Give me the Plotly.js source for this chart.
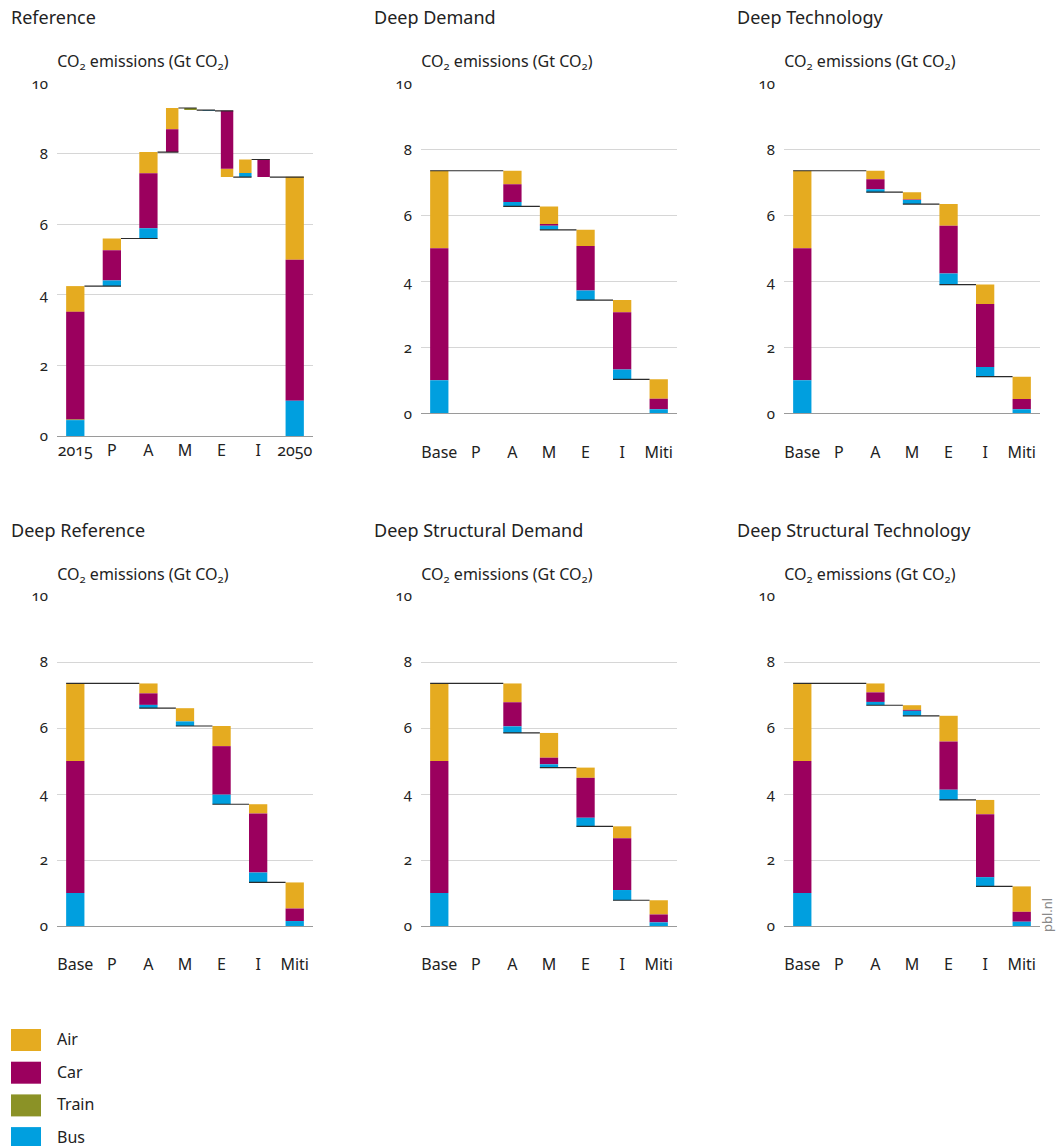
<!DOCTYPE html>
<html>
<head>
<meta charset="utf-8">
<script src="https://cdn.plot.ly/plotly-3.0.1.min.js"></script>
<style>
  html, body { margin: 0; padding: 0; background: #ffffff; }
  #chart { width: 1061px; height: 1146px; }
  .main-svg text { font-variant-numeric: oldstyle-nums !important; font-feature-settings: "onum" 1 !important; }
</style>
</head>
<body>
<div id="chart"></div>
<script>
// Transport modes (legend order) and their colours
const modes = ['Air', 'Car', 'Train', 'Bus'];
const modeColors = ['#E5AB20', '#9B005E', '#8B9226', '#009FDF'];

// Category labels along the x axes
const refCategories = ['2015', 'P', 'A', 'M', 'E', 'I', '2050'];
const deepCategories = ['Base', 'P', 'A', 'M', 'E', 'I', 'Miti'];

// Scenario titles
const scenarioTitles = ['Reference', 'Deep Demand', 'Deep Technology',
                        'Deep Reference', 'Deep Structural Demand', 'Deep Structural Technology'];

// Reference: first and last steps are totals, the rest are changes (Gt CO2).
// Some categories hold more than one step (increases and decreases shown apart).
const refStepCategory = [0, 1, 2, 3, 3, 4, 4, 5, 5, 6];
const refAir   = [0.73, 0.33, 0.60, 0.60,  0.00,  0.00, -0.24, 0.38,  0.00, 2.35];
const refCar   = [3.05, 0.86, 1.56, 0.65,  0.00,  0.00, -1.64, 0.00, -0.50, 4.00];
const refTrain = [0.02, 0.00, 0.00, 0.00, -0.06,  0.00,  0.00, 0.00,  0.00, 0.00];
const refBus   = [0.45, 0.16, 0.29, 0.00,  0.00, -0.02,  0.00, 0.12,  0.00, 1.00];

// Deep scenarios: Base total, changes for P, A, M, E, I, then the Miti total
const deepStepCategory = [0, 1, 2, 3, 4, 5, 6];

const deepDemandAir   = [2.35, 0, -0.41, -0.53, -0.49, -0.37, 0.59];
const deepDemandCar   = [4.00, 0, -0.54, -0.06, -1.35, -1.73, 0.32];
const deepDemandTrain = [0.00, 0,  0.00,  0.00,  0.00,  0.00, 0.00];
const deepDemandBus   = [1.00, 0, -0.13, -0.12, -0.29, -0.30, 0.12];

const deepTechAir   = [2.35, 0, -0.26, -0.22, -0.66, -0.59, 0.68];
const deepTechCar   = [4.00, 0, -0.30, -0.02, -1.44, -1.91, 0.31];
const deepTechTrain = [0.00, 0,  0.00,  0.00,  0.00,  0.00, 0.00];
const deepTechBus   = [1.00, 0, -0.09, -0.12, -0.34, -0.29, 0.12];

const deepRefAir   = [2.35, 0, -0.30, -0.40, -0.61, -0.28, 0.79];
const deepRefCar   = [4.00, 0, -0.35,  0.00, -1.47, -1.79, 0.38];
const deepRefTrain = [0.00, 0,  0.00,  0.00,  0.00,  0.00, 0.00];
const deepRefBus   = [1.00, 0, -0.10, -0.14, -0.29, -0.30, 0.15];

const deepStructDemandAir   = [2.35, 0, -0.57, -0.75, -0.31, -0.36, 0.43];
const deepStructDemandCar   = [4.00, 0, -0.73, -0.20, -1.21, -1.57, 0.24];
const deepStructDemandTrain = [0.00, 0,  0.00,  0.00,  0.00,  0.00, 0.00];
const deepStructDemandBus   = [1.00, 0, -0.20, -0.10, -0.26, -0.31, 0.11];

const deepStructTechAir   = [2.35, 0, -0.27, -0.14, -0.78, -0.43, 0.77];
const deepStructTechCar   = [4.00, 0, -0.29, -0.03, -1.46, -1.91, 0.30];
const deepStructTechTrain = [0.00, 0,  0.00,  0.00,  0.00,  0.00, 0.00];
const deepStructTechBus   = [1.00, 0, -0.10, -0.15, -0.31, -0.28, 0.13];

// ---------------------------------------------------------------------------
const W = 1061, H = 1146;
const FONT = '"Noto Sans", "Open Sans", sans-serif';
const TEXT = '#222222';

// Plot-area geometry in pixels: [left, top, bottom] per panel, shared width
const plotWidth = 256;
const panelGeom = [
  [57, 83.3, 436], [421, 83.3, 413.3], [784, 83.3, 413.3],
  [57, 596, 926],  [421, 596, 926],    [784, 596, 926]
];

// lineFrom: which bar edge the connectors start from
// dropFromTop: decreases hang down from the previous total in stacking order
const panels = [
  { cats: refCategories,  steps: refStepCategory,  series: [refAir, refCar, refTrain, refBus], lineFrom: 'right', dropFromTop: true,  standoff: 0 },
  { cats: deepCategories, steps: deepStepCategory, series: [deepDemandAir, deepDemandCar, deepDemandTrain, deepDemandBus], lineFrom: 'left', dropFromTop: false, standoff: 24 },
  { cats: deepCategories, steps: deepStepCategory, series: [deepTechAir, deepTechCar, deepTechTrain, deepTechBus], lineFrom: 'left', dropFromTop: false, standoff: 24 },
  { cats: deepCategories, steps: deepStepCategory, series: [deepRefAir, deepRefCar, deepRefTrain, deepRefBus], lineFrom: 'left', dropFromTop: false, standoff: 24 },
  { cats: deepCategories, steps: deepStepCategory, series: [deepStructDemandAir, deepStructDemandCar, deepStructDemandTrain, deepStructDemandBus], lineFrom: 'left', dropFromTop: false, standoff: 24 },
  { cats: deepCategories, steps: deepStepCategory, series: [deepStructTechAir, deepStructTechCar, deepStructTechTrain, deepStructTechBus], lineFrom: 'left', dropFromTop: false, standoff: 24 }
];

// stacking order: Bus, Train, Car, Air
const stackIdx = [3, 2, 1, 0];

const traces = [];
const layout = {
  width: W, height: H,
  margin: { l: 0, r: 0, t: 0, b: 0 },
  paper_bgcolor: '#ffffff', plot_bgcolor: 'rgba(0,0,0,0)',
  barmode: 'overlay',
  showlegend: false,
  font: { family: FONT, color: TEXT },
  annotations: [], shapes: []
};

panels.forEach((p, k) => {
  const ax = k === 0 ? '' : String(k + 1);
  const xref = 'x' + ax, yref = 'y' + ax;
  const [left, top, bottom] = panelGeom[k];

  // how many steps fall into each category
  const perCat = {};
  p.steps.forEach(c => { perCat[c] = (perCat[c] || 0) + 1; });
  const seen = {};

  const segs = modes.map(() => ({ x: [], y: [], base: [], width: [] }));
  const drawn = [];
  let running = 0;
  const n = p.steps.length;

  for (let i = 0; i < n; i++) {
    const c = p.steps[i];
    const j = seen[c] || 0; seen[c] = j + 1;
    const vals = p.series.map(s => s[i]);
    if (vals.every(v => v === 0)) continue;

    let cx, w;
    if (perCat[c] === 1) { cx = c; w = 0.5; }
    else { cx = c - 0.35 + 0.5 * j; w = 0.34; }

    const isTotal = (i === 0 || i === n - 1);
    const sum = vals.reduce((a, b) => a + b, 0);
    const prev = running;
    if (isTotal) running = sum; else running += sum;

    if (!isTotal && sum < 0 && p.dropFromTop) {
      // hang each decrease below the previous one, starting at the old total
      let cur = prev;
      stackIdx.forEach(m => {
        const h = Math.abs(vals[m]);
        if (h > 0) {
          segs[m].x.push(cx); segs[m].y.push(h); segs[m].base.push(cur - h); segs[m].width.push(w);
          cur -= h;
        }
      });
    } else {
      let cur = isTotal ? 0 : Math.min(prev, running);
      stackIdx.forEach(m => {
        const h = Math.abs(vals[m]);
        if (h > 0) {
          segs[m].x.push(cx); segs[m].y.push(h); segs[m].base.push(cur); segs[m].width.push(w);
          cur += h;
        }
      });
    }
    drawn.push({ left: cx - w / 2, right: cx + w / 2, level: running });
  }

  modes.forEach((name, m) => {
    if (!segs[m].x.length) return;
    traces.push({
      type: 'bar', name: name, x: segs[m].x, y: segs[m].y, base: segs[m].base, width: segs[m].width,
      marker: { color: modeColors[m], line: { width: 0 } },
      xaxis: xref, yaxis: yref, hoverinfo: 'x+y'
    });
  });

  // waterfall connectors at each running total
  const lx = [], ly = [];
  for (let i = 0; i < drawn.length - 1; i++) {
    const a = drawn[i], b = drawn[i + 1];
    const x0 = p.lineFrom === 'left' ? a.left : a.right;
    const x1 = p.lineFrom === 'left' ? b.left : b.right;
    lx.push(x0, x1, null); ly.push(a.level, a.level, null);
  }
  traces.push({
    type: 'scatter', mode: 'lines', x: lx, y: ly,
    line: { color: '#2b2b2b', width: 1.2 }, xaxis: xref, yaxis: yref, hoverinfo: 'skip'
  });

  layout['xaxis' + ax] = {
    domain: [left / W, (left + plotWidth) / W], anchor: yref,
    range: [-0.5, 6.5], tickvals: [0, 1, 2, 3, 4, 5, 6], ticktext: p.cats,
    showgrid: false, zeroline: false, showline: true, linecolor: '#9a9a9a', linewidth: 1,
    ticks: '', ticklabelstandoff: p.standoff, tickfont: { size: 16, color: TEXT, family: FONT },
    fixedrange: true
  };
  layout['yaxis' + ax] = {
    domain: [1 - bottom / H, 1 - top / H], anchor: xref,
    range: [0, 10], tickvals: [0, 2, 4, 6, 8, 10],
    showgrid: true, gridcolor: '#d6d6d6', gridwidth: 1, zeroline: false, showline: false,
    ticks: '', ticklabelstandoff: 8, tickfont: { size: 15, color: TEXT, family: FONT },
    fixedrange: true
  };

  // scenario title and unit label
  const titleX = k % 3 === 0 ? 9 : left - 49;
  layout.annotations.push({
    xref: 'paper', yref: 'paper', x: titleX / W, y: 1 - (top - 66) / H,
    xanchor: 'left', yanchor: 'middle', showarrow: false,
    text: scenarioTitles[k], font: { size: 18, color: TEXT, family: FONT }
  });
  layout.annotations.push({
    xref: 'paper', yref: 'paper', x: (left - 2) / W, y: 1 - (top - 22) / H,
    xanchor: 'left', yanchor: 'middle', showarrow: false,
    text: 'CO<sub>2</sub> emissions (Gt CO<sub>2</sub>)', font: { size: 16, color: TEXT, family: FONT }
  });
});

// legend swatches
modes.forEach((name, m) => {
  const y0 = 1029 + 32.7 * m;
  layout.shapes.push({
    type: 'rect', xref: 'paper', yref: 'paper',
    x0: 11 / W, x1: 41 / W, y0: 1 - (y0 + 22) / H, y1: 1 - y0 / H,
    fillcolor: modeColors[m], line: { width: 0 }
  });
  layout.annotations.push({
    xref: 'paper', yref: 'paper', x: 55 / W, y: 1 - (y0 + 10) / H,
    xanchor: 'left', yanchor: 'middle', showarrow: false,
    text: name, font: { size: 16, color: TEXT, family: FONT }
  });
});

// source mark
layout.annotations.push({
  xref: 'paper', yref: 'paper', x: 1047 / W, y: 1 - 915 / H,
  xanchor: 'center', yanchor: 'middle', showarrow: false, textangle: -90,
  text: 'pbl.nl', font: { size: 13, color: '#8a8a8a', family: FONT }
});

Plotly.newPlot('chart', traces, layout, { displayModeBar: false, staticPlot: true });
</script>
</body>
</html>
